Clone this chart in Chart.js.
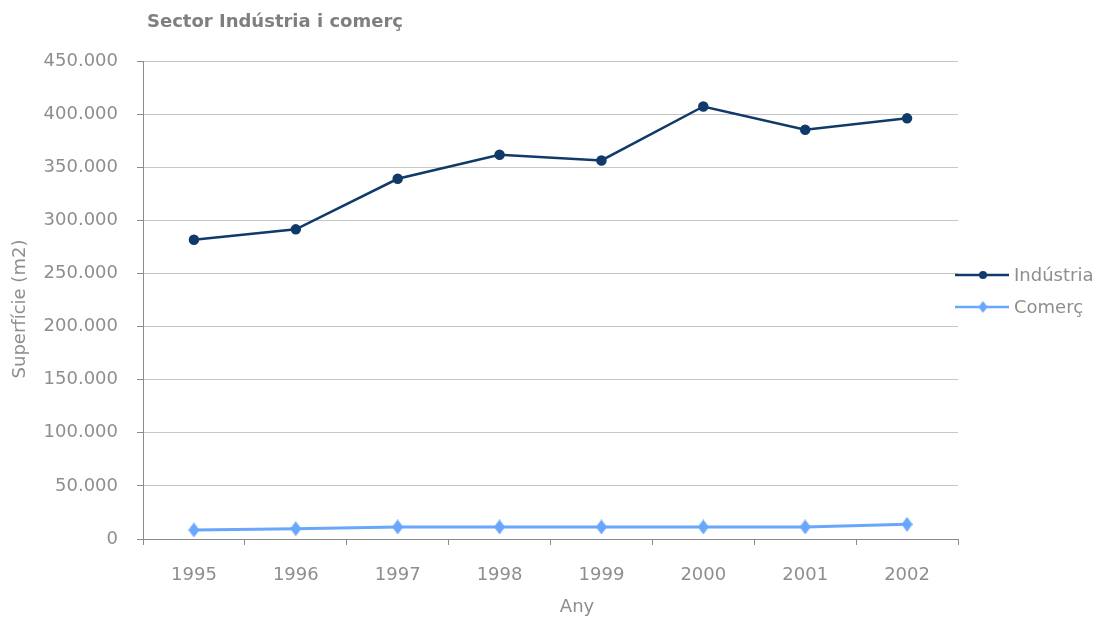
<!DOCTYPE html>
<html>
<head>
<meta charset="utf-8">
<script src="https://cdn.jsdelivr.net/npm/chart.js@4"></script>
<style>
  html, body { margin: 0; padding: 0; background: #fff; }
  #wrap { width: 1103px; height: 619px; }
</style>
</head>
<body>
<div id="wrap"><canvas id="sectorChart" width="1103" height="619"></canvas></div>
<script>
// Data
const years = ['1995', '1996', '1997', '1998', '1999', '2000', '2001', '2002'];
const industria = [281700, 291500, 339100, 361700, 356400, 407200, 385200, 396000];
const comerc = [8500, 9700, 11300, 11300, 11300, 11300, 11300, 13800];
const yTicks = [0, 50000, 100000, 150000, 200000, 250000, 300000, 350000, 400000, 450000];

const FONT = 'DejaVu Sans';
const NAVY = '#0f3a69';
const LIGHT = '#68a7fb';
const TEXT_GREY = '#8e8e8e';
const AXIS_GREY = '#8c8c8c';

function fmt(v) {
    return String(v).replace(/\B(?=(\d{3})+(?!\d))/g, '.');
}

// elongated diamond marker
function diamond(w, h, color) {
    const c = document.createElement('canvas');
    c.width = w; c.height = h;
    const g = c.getContext('2d');
    g.fillStyle = color;
    g.beginPath();
    g.moveTo(w / 2, 0);
    g.lineTo(w, h / 2);
    g.lineTo(w / 2, h);
    g.lineTo(0, h / 2);
    g.closePath();
    g.fill();
    return c;
}
const diamondImg = diamond(11, 15, LIGHT);
const diamondSmall = diamond(9, 12, LIGHT);

// titles and legend drawn by hand
const decorPlugin = {
    id: 'decor',
    afterDraw(chart) {
        const ctx = chart.ctx;
        ctx.save();
        ctx.fillStyle = '#7f7f7f';
        ctx.font = 'bold 18px ' + FONT;
        ctx.textAlign = 'left';
        ctx.textBaseline = 'middle';
        ctx.fillText('Sector Indústria i comerç', 147, 22);

        ctx.fillStyle = TEXT_GREY;
        ctx.font = '18px ' + FONT;
        ctx.textAlign = 'center';
        ctx.fillText('Any', 577, 607);

        ctx.save();
        ctx.translate(20, 309);
        ctx.rotate(-Math.PI / 2);
        ctx.fillText('Superfície (m2)', 0, 0);
        ctx.restore();

        // legend
        const items = [
            { label: 'Indústria', color: NAVY, y: 275, marker: 'circle' },
            { label: 'Comerç', color: LIGHT, y: 307, marker: 'diamond' }
        ];
        items.forEach(it => {
            ctx.strokeStyle = it.color;
            ctx.lineWidth = 2.5;
            ctx.beginPath();
            ctx.moveTo(955, it.y);
            ctx.lineTo(1009, it.y);
            ctx.stroke();
            if (it.marker === 'circle') {
                ctx.fillStyle = it.color;
                ctx.beginPath();
                ctx.arc(983, it.y, 4, 0, Math.PI * 2);
                ctx.fill();
            } else {
                ctx.drawImage(diamondSmall, 983 - 4.5, it.y - 6);
            }
            ctx.fillStyle = TEXT_GREY;
            ctx.font = '18px ' + FONT;
            ctx.textAlign = 'left';
            ctx.fillText(it.label, 1014, it.y + 1);
        });
        ctx.restore();
    }
};

new Chart(document.getElementById('sectorChart').getContext('2d'), {
    type: 'line',
    data: {
        labels: years,
        datasets: [
            {
                label: 'Indústria',
                data: industria,
                borderColor: NAVY,
                backgroundColor: NAVY,
                borderWidth: 2.5,
                pointRadius: 4,
                pointStyle: 'circle',
                tension: 0
            },
            {
                label: 'Comerç',
                data: comerc,
                borderColor: LIGHT,
                backgroundColor: LIGHT,
                borderWidth: 3,
                pointStyle: diamondImg,
                tension: 0
            }
        ]
    },
    options: {
        responsive: false,
        animation: false,
        layout: { padding: { left: 0, top: 61, right: 145, bottom: 0 } },
        plugins: {
            legend: { display: false },
            title: { display: false },
            tooltip: { enabled: false }
        },
        scales: {
            x: {
                type: 'category',
                offset: true,
                afterFit: s => { s.height = 80; },
                border: { color: AXIS_GREY, width: 1 },
                grid: {
                    offset: true,
                    drawOnChartArea: false,
                    tickLength: 6,
                    color: AXIS_GREY
                },
                ticks: {
                    color: TEXT_GREY,
                    font: { family: FONT, size: 18 },
                    padding: 20,
                    maxRotation: 0
                }
            },
            y: {
                min: 0,
                max: 450000,
                afterFit: s => { s.width = 143; },
                afterBuildTicks: s => { s.ticks = yTicks.map(v => ({ value: v })); },
                border: { color: AXIS_GREY, width: 1 },
                grid: {
                    color: '#c6c6c6',
                    tickColor: AXIS_GREY,
                    tickLength: 6
                },
                ticks: {
                    color: TEXT_GREY,
                    font: { family: FONT, size: 18 },
                    padding: 19,
                    callback: v => fmt(v)
                }
            }
        }
    },
    plugins: [decorPlugin]
});
</script>
</body>
</html>
